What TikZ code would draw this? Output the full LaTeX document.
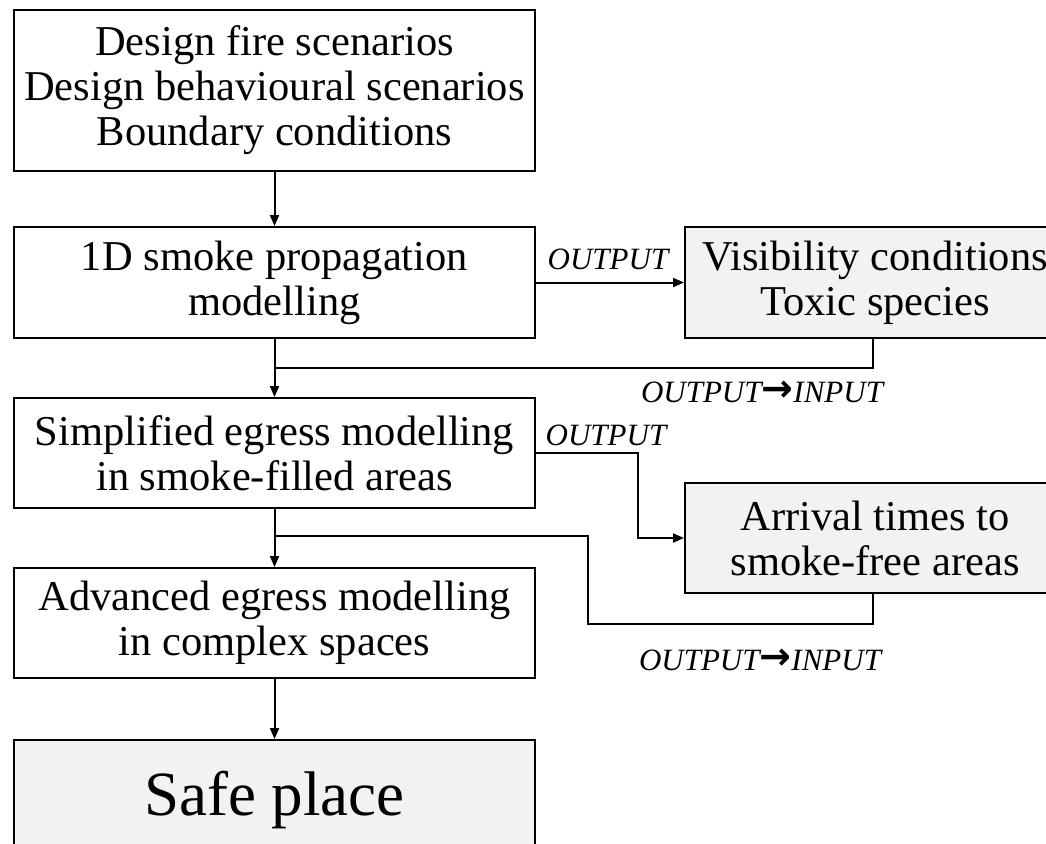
\documentclass[tikz,border=0pt]{standalone}
\usepackage{fontspec}
\setmainfont{Liberation Serif}
\newfontfamily\arrowfnt{DejaVu Sans}
\usetikzlibrary{arrows.meta}
\definecolor{boxgray}{HTML}{F2F2F2}
\newcommand{\bigarrow}{\raisebox{1pt}{\arrowfnt\bfseries\fontsize{38}{40}\selectfont →}}
\begin{document}
\begin{tikzpicture}[x=1pt,y=-1pt,
  box/.style={draw=black, line width=2pt, inner sep=0pt, align=center,
    font=\fontsize{42.5}{45}\selectfont, minimum width=521pt},
  outbox/.style={box, fill=boxgray, minimum width=380pt},
  lab/.style={inner sep=0pt, font=\fontsize{31}{34}\selectfont\itshape},
  conn/.style={line width=2pt},
  arr/.style={conn, -{Triangle[length=11pt,width=9pt]}}]
\clip (0,0) rectangle (1046,843);
% boxes
\node[box, minimum height=161pt] (b1) at (274.5,90.5)
  {Design fire scenarios\\Design behavioural scenarios\\Boundary conditions};
\node[box, minimum height=111pt] (b2) at (274.5,282.5)
  {1D smoke propagation\\modelling};
\node[outbox, minimum height=111pt] (b3) at (875,282.5)
  {Visibility conditions\\Toxic species};
\node[box, minimum height=110pt] (b4) at (274.5,453)
  {Simplified egress modelling\\in smoke-filled areas};
\node[outbox, minimum height=110pt] (b5) at (875,538)
  {Arrival times to\\smoke-free areas};
\node[box, minimum height=110pt] (b6) at (274.5,623)
  {Advanced egress modelling\\in complex spaces};
\node[box, fill=boxgray, minimum height=160pt, text height=44pt, text depth=54pt,
  font=\fontsize{63}{66}\selectfont] (b7) at (274.5,820) {Safe place};
% labels
\node[lab] (o1) at (608,259) {OUTPUT};
\node[lab] (oi1) at (762,392) {OUTPUT\bigarrow INPUT};
\node[lab] (o2) at (606,435) {OUTPUT};
\node[lab] (oi2) at (760,660) {OUTPUT\bigarrow INPUT};
% helper coordinates
\coordinate (fx) at (873,0);
\coordinate (j1) at (274.5,368);
\coordinate (k1) at (638,495);
\coordinate (k2) at (588,624);
\coordinate (j2) at (274.5,536);
% connectors
\draw[arr] (b1.south) -- (b2.north);
\draw[arr] (b2.east) -- (b3.west);
\draw[conn] (b3.south -| fx) |- (j1);
\draw[arr] (b2.south) -- (b4.north);
\draw[arr] (b4.east) -| (k1) |- (b5.west);
\draw[conn] (b5.south -| fx) |- (k2) |- (j2);
\draw[arr] (b4.south) -- (b6.north);
\draw[arr] (b6.south) -- (b7.north);
\end{tikzpicture}
\end{document}
